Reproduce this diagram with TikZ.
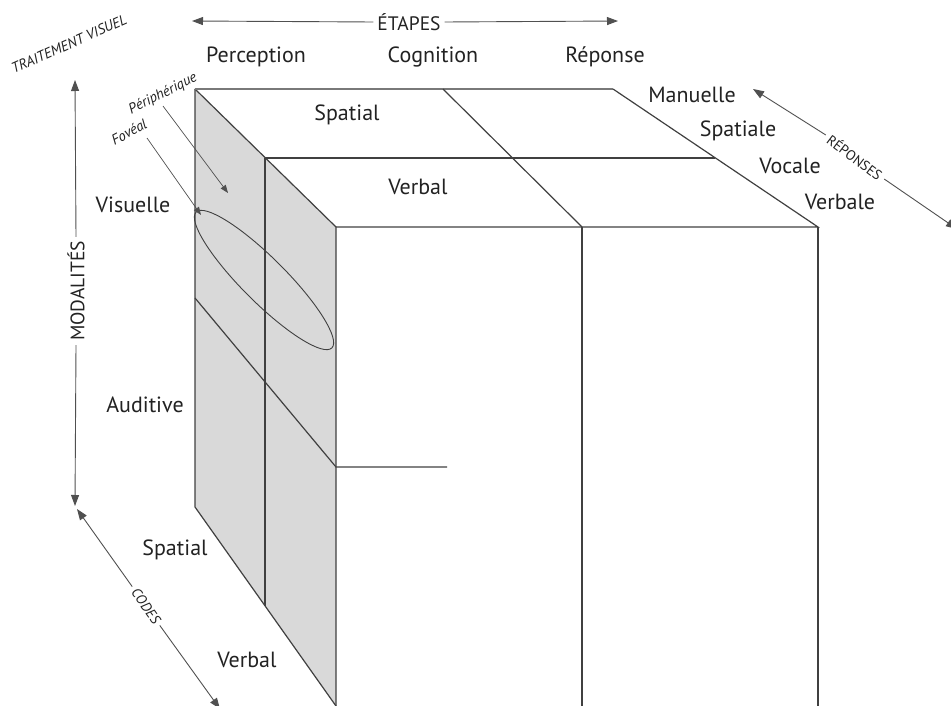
\documentclass[tikz,border=0pt]{standalone}
\usepackage{fontspec}
\setmainfont{PT Sans}
\usetikzlibrary{arrows.meta}
\definecolor{ink}{HTML}{222222}
\definecolor{edgec}{HTML}{404040}
\definecolor{facec}{HTML}{D9D9D9}
\definecolor{axisc}{HTML}{505050}
\begin{document}
\begin{tikzpicture}[x=1pt,y=1pt,
  edge/.style={draw=edgec, line width=1.2pt, line join=miter},
  lbl/.style={font=\fontsize{22}{24}\selectfont, text=ink, inner sep=0pt},
  axlbl/.style={font=\fontsize{19.5}{21}\selectfont, text=ink, inner sep=4pt},
  ital/.style={font=\fontsize{14.5}{16}\selectfont\itshape, text=ink, inner sep=0pt},
  axis/.style={draw=axisc, line width=0.9pt, -{Triangle[length=11pt,width=8pt]}},
  ptr/.style={draw=axisc, line width=0.7pt, -{Triangle[length=8pt,width=6pt]}}]
\useasboundingbox (0,0) rectangle (951,-706);

% ---- geometry
\coordinate (A) at (195,-89);
\coordinate (B) at (613,-89);
\coordinate (C) at (818,-227);
\coordinate (D) at (336,-227);
\coordinate (M1) at (443,-89);
\coordinate (M2) at (582,-227);
\coordinate (S1) at (265,-158);
\coordinate (S2) at (715,-158);
\coordinate (E) at (336,-706);
\coordinate (F) at (195,-507);
\coordinate (G) at (265,-606);
\coordinate (H0) at (195,-298);
\coordinate (H) at (336,-467);
\coordinate (H2) at (447,-467);
\coordinate (Cb) at (818,-706);
\coordinate (M2b) at (582,-706);

% left face
\fill[facec] (A) -- (D) -- (E) -- (F) -- cycle;
\draw[edge] (A) -- (D) -- (E);
\draw[edge] (A) -- (F) -- (E);
\draw[edge] (S1) -- (G);
\draw[edge] (H0) -- (H) -- (H2);
% top face
\draw[draw=edgec!70, line width=1.2pt] (A) -- (B);
\draw[edge] (B) -- (C) -- (D);
\draw[edge] (M1) -- (M2);
\draw[edge] (S1) -- (S2);
% front face
\draw[edge] (C) -- (Cb);
\draw[edge] (M2) -- (M2b);
% ellipse
\draw[draw=edgec, line width=0.9pt] (264,-280) ellipse [x radius=96, y radius=22, rotate=-45];

% ---- labels
\node[lbl] (perc) at (256,-57) {Perception};
\node[lbl] (cogn) at (433,-57) {Cognition};
\node[lbl] (repo) at (605,-57) {Réponse};
\node[lbl] (tsp) at (347,-115) {Spatial};
\node[lbl] (tvb) at (418,-187) {Verbal};
\node[lbl] (man) at (692,-95) {Manuelle};
\node[lbl] (spa) at (738,-131) {Spatiale};
\node[lbl] (voc) at (790,-166) {Vocale};
\node[lbl] (vbe) at (840,-202) {Verbale};
\node[lbl] (vis) at (133,-205) {Visuelle};
\node[lbl] (aud) at (145,-405) {Auditive};
\node[lbl] (csp) at (175,-550) {Spatial};
\node[lbl] (cvb) at (247,-660) {Verbal};

% ---- axes
\node[axlbl] (etapes) at (409,-22) {ÉTAPES};
\coordinate (etL) at (192,-21);
\coordinate (etR) at (618,-21);
\draw[axis] (etapes.west) -- (etL);
\draw[axis] (etapes.east) -- (etR);

\node[axlbl, rotate=90] (modal) at (76,-291) {MODALITÉS};
\coordinate (moT) at (75,-80);
\coordinate (moB) at (75,-506);
\draw[axis] (modal.east) -- (moT);
\draw[axis] (modal.west) -- (moB);

\node[axlbl, rotate=-54.6, font=\fontsize{14}{16}\selectfont\itshape] (codes) at (146,-606) {CODES};
\coordinate (coT) at (77,-509);
\coordinate (coB) at (220,-709);
\draw[axis] (codes.west) -- (coT);
\draw[axis] (codes.east) -- (coB);

\node[axlbl, rotate=-37, font=\fontsize{14}{16}\selectfont] (repos) at (855,-157) {RÉPONSES};
\coordinate (reT) at (753,-89);
\coordinate (reB) at (957,-229);
\draw[axis] (repos.west) -- (reT);
\draw[axis] (repos.east) -- (reB);

\node[ital, rotate=24, font=\fontsize{14.5}{16}\selectfont\itshape] (trait) at (69,-44) {TRAITEMENT VISUEL};

\node[ital, rotate=27] (peri) at (163,-94) {Périphérique};
\node[ital, rotate=28] (fove) at (129,-132) {Fovéal};
\coordinate (periS) at (163,-106);
\coordinate (periT) at (228,-193);
\coordinate (foveS) at (147,-138);
\coordinate (foveT) at (201,-215);
\draw[ptr] (periS) -- (periT);
\draw[ptr] (foveS) -- (foveT);
\end{tikzpicture}
\end{document}
